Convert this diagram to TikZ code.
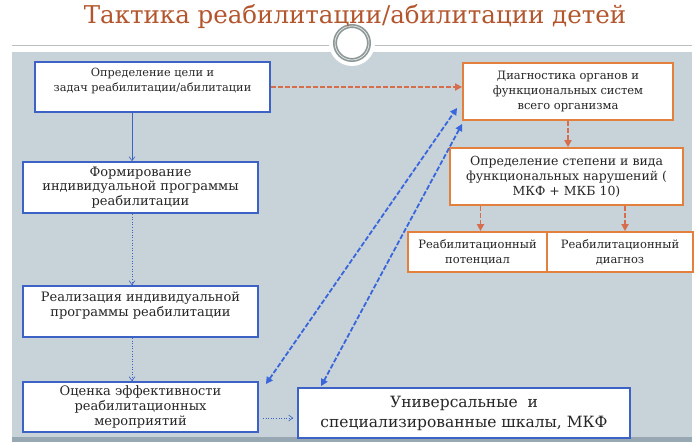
\documentclass[tikz,border=0pt]{standalone}
\usepackage{fontspec}
\setmainfont{DejaVu Serif}
\usetikzlibrary{arrows.meta}

\definecolor{boxblue}{HTML}{3C62C6}
\definecolor{arrblue}{HTML}{3A66DC}
\definecolor{boxorange}{HTML}{E3803E}
\definecolor{arrorange}{HTML}{D66E4E}
\definecolor{titlebrown}{HTML}{B3552D}
\definecolor{panel}{HTML}{C7D2D9}
\definecolor{panelbar}{HTML}{97A8B2}
\definecolor{ringgray}{HTML}{8D9897}

\begin{document}
\begin{tikzpicture}[
  x=1pt, y=-1pt,
  every node/.style={text=black!85, align=center, inner sep=0pt},
  bluebox/.style={draw=boxblue, line width=1.8pt, fill=white},
  orangebox/.style={draw=boxorange, line width=1.8pt, fill=white},
  thinflow/.style={draw=boxblue, line width=0.6pt, -{Straight Barb[length=4pt,width=6pt]}},
  dotflow/.style={thinflow, dotted},
  linkflow/.style={draw=arrblue, line width=1.8pt, dash pattern=on 5pt off 2pt, {Triangle[length=7pt,width=7pt]}-{Triangle[length=7pt,width=7pt]}},
  diagflow/.style={draw=arrorange, line width=1.8pt, dash pattern=on 5pt off 2pt, -{Triangle[length=7pt,width=7pt]}},
]

% Background
\useasboundingbox (0,0) rectangle (700,442);
\fill[white] (0,0) rectangle (700,442);
\fill[panel] (12,52) rectangle (692,442);
\fill[panelbar] (12,437) rectangle (692,442);
\draw[ringgray!60, line width=0.8pt] (12,45) -- (692,45);

% Ring
\fill[white] (352,43) circle (23);
\draw[ringgray, line width=4pt] (352,43) circle (17);
\draw[white!80!ringgray, line width=0.7pt] (352,43) circle (17);

% Title
\node[font=\fontsize{24.5}{28}\selectfont, text=titlebrown] (title) at (355,17)
  {Тактика реабилитации/абилитации детей};

% Left column
\node[bluebox, minimum width=235, minimum height=50, font=\fontsize{11.3}{15}\selectfont] (goal) at (152.5,87)
  {Определение цели и\\задач реабилитации/абилитации\\\mbox{}};
\node[bluebox, minimum width=235, minimum height=51, font=\fontsize{13}{14.5}\selectfont] (form) at (140.5,187.5)
  {Формирование\\индивидуальной программы\\реабилитации};
\node[bluebox, minimum width=235, minimum height=51, font=\fontsize{13}{14.5}\selectfont] (real) at (140.5,311.5)
  {Реализация индивидуальной\\программы реабилитации\\\mbox{}};
\node[bluebox, minimum width=235, minimum height=50, font=\fontsize{13}{15}\selectfont] (eval) at (140.5,407)
  {Оценка эффективности\\реабилитационных\\мероприятий};
\node[bluebox, minimum width=332, minimum height=50, font=\fontsize{15.5}{20}\selectfont] (scales) at (464,413)
  {Универсальные\ \ и\\специализированные шкалы, МКФ};

% Right column
\node[orangebox, minimum width=210, minimum height=57, font=\fontsize{11.5}{15}\selectfont] (diag) at (568,91.5)
  {Диагностика органов и\\функциональных систем\\всего организма};
\node[orangebox, minimum width=233, minimum height=57, font=\fontsize{12.5}{15}\selectfont] (func) at (566.5,176.5)
  {Определение степени и вида\\функциональных нарушений (\\МКФ + МКБ 10)};
\node[orangebox, minimum width=139, minimum height=40, font=\fontsize{11.5}{15}\selectfont] (pot) at (477.5,252)
  {Реабилитационный\\потенциал};
\node[orangebox, minimum width=146, minimum height=40, font=\fontsize{11.5}{15}\selectfont] (rdiag) at (620,252)
  {Реабилитационный\\диагноз};

% Connectors
\coordinate (spine) at (132,0);
\coordinate (potin) at ([xshift=3]pot.north);
\coordinate (rdiagin) at ([xshift=5]rdiag.north);
\draw[thinflow] (goal.south -| spine) -- (form.north -| spine);
\draw[dotflow] (form.south -| spine) -- (real.north -| spine);
\draw[dotflow] (real.south -| spine) -- (eval.north -| spine);
\draw[dotflow] ([shift={(4,11)}]eval.east) -- ([shift={(-4,11)}]eval.east -| scales.west);

\draw[diagflow] (goal.east) -- (goal.east -| diag.west);
\draw[diagflow] (diag.south) -- (diag.south |- func.north);
\draw[diagflow] (func.south -| potin) -- (potin);
\draw[diagflow] (func.south -| rdiagin) -- (rdiagin);

\draw[linkflow] ([shift={(7,3)}]eval.north east) -- ([shift={(-5,-13)}]diag.south west);
\draw[linkflow] ([shift={(0,3)}]diag.south west) -- ([shift={(24,-1)}]scales.north west);

\end{tikzpicture}
\end{document}
